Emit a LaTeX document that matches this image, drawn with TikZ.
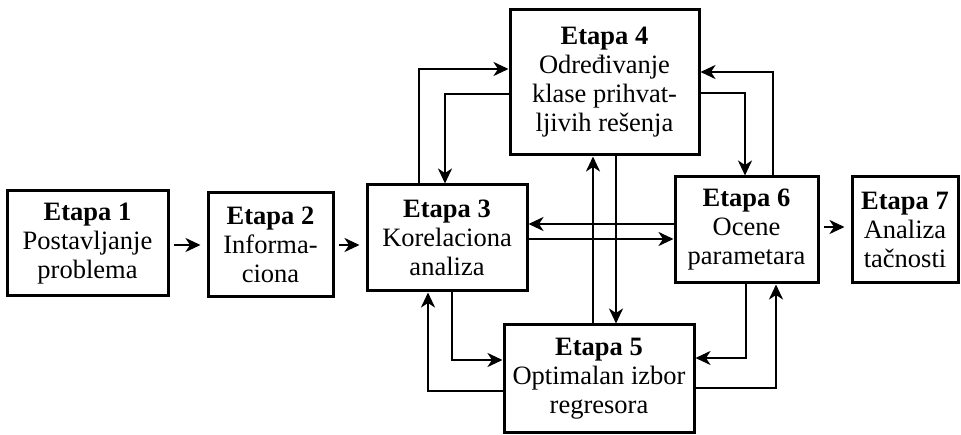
\documentclass[tikz,border=0pt]{standalone}
\usepackage{fontspec}
\setmainfont{Liberation Serif}
\usetikzlibrary{arrows.meta}

\begin{document}
\begin{tikzpicture}[x=1pt,y=-1pt,
		etapa/.style={draw, line width=3pt, align=center, inner sep=0pt, font=\fontsize{26.5}{29}\selectfont},
		arr/.style={line width=2.4pt, -{Stealth[length=15pt,width=14pt,inset=4.5pt]}},
		gap/.style={arr, shorten <=4pt, shorten >=6pt}]
		\useasboundingbox (0,0) rectangle (961,435);
		\node[etapa, minimum width=161pt, minimum height=105pt] (e1) at (87.5,243.5) {\textbf{Etapa 1}\\Postavljanje\\problema};
		\node[etapa, minimum width=125pt, minimum height=104pt] (e2) at (270.5,244.5) {\textbf{Etapa 2}\\Informa-\\ciona};
		\node[etapa, minimum width=160pt, minimum height=106pt] (e3) at (447,238) {\textbf{Etapa 3}\\Korelaciona\\analiza};
		\node[etapa, minimum width=189pt, minimum height=145pt] (e4) at (604.5,82.5) {\textbf{Etapa 4}\\Određivanje\\klase prihvat-\\ljivih rešenja};
		\node[etapa, minimum width=190pt, minimum height=107pt] (e5) at (599,378.5) {\textbf{Etapa 5}\\Optimalan izbor\\regresora};
		\node[etapa, minimum width=143pt, minimum height=106pt] (e6) at (746.5,230) {\textbf{Etapa 6}\\Ocene\\parametara};
		\node[etapa, minimum width=106pt, minimum height=106pt] (e7) at (905,230) {\textbf{Etapa 7}\\Analiza\\tačnosti};
		\draw[gap] (e1.east |- 0,245) -- (e2.west |- 0,245);
		\draw[gap] (e2.east |- 0,245) -- (e3.west |- 0,245);
		\draw[gap] (e6.east |- 0,227) -- (e7.west |- 0,227);
		\draw[arr] ([xshift=-28pt]e3.north) |- ([yshift=13.5pt]e4.west);
		\draw[arr] ([yshift=-11.5pt]e4.west) -| ([xshift=-2pt]e3.north);
		\draw[arr] ([xshift=26.5pt]e6.north) |- ([yshift=10.5pt]e4.east);
		\draw[arr] ([yshift=-10.5pt]e4.east) -| ([xshift=-1.5pt]e6.north);
		\draw[arr] ([xshift=-6pt]e5.north) -- ([xshift=-6pt]e5.north |- e4.south);
		\draw[arr] ([xshift=11.5pt]e4.south) -- ([xshift=11.5pt]e4.south |- e5.north);
		\draw[arr] ([yshift=6pt]e6.west) -- ([yshift=6pt]e6.west -| e3.east);
		\draw[arr] ([yshift=-1pt]e3.east) -- ([yshift=-1pt]e3.east -| e6.west);
		\draw[arr] ([xshift=5pt]e3.south) |- ([yshift=18.5pt]e5.west);
		\draw[arr] ([yshift=-12.5pt]e5.west) -| ([xshift=-19pt]e3.south);
		\draw[arr] ([xshift=-0.5pt]e6.south) |- ([yshift=20.5pt]e5.east);
		\draw[arr] ([yshift=-9.5pt]e5.east) -| ([xshift=29.5pt]e6.south);
	\end{tikzpicture}
\end{document}
